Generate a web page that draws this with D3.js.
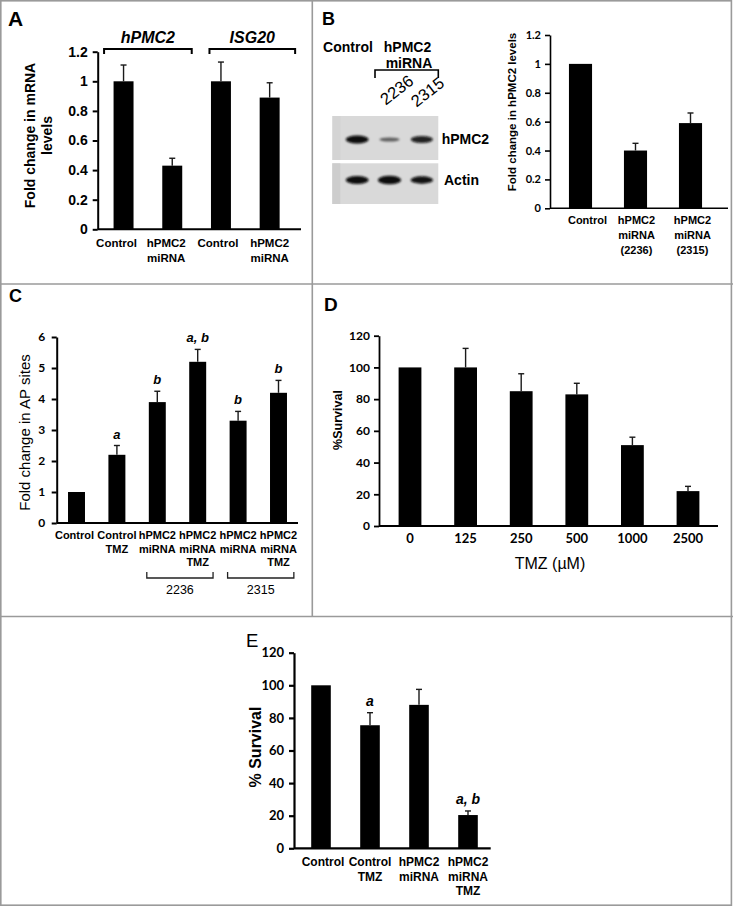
<!DOCTYPE html>
<html><head><meta charset="utf-8">
<script src="https://cdn.jsdelivr.net/npm/d3@7"></script>
<style>body{margin:0;background:#fff}svg{display:block}</style>
</head><body>
<script>
// ---------- DATA ----------
const catsA = ["Control","hPMC2\nmiRNA","Control","hPMC2\nmiRNA"];
const valsA = [1.0, 0.43, 1.0, 0.89];
const errA  = [0.11, 0.05, 0.13, 0.10];
const ticksA = [0, 0.2, 0.4, 0.6, 0.8, 1, 1.2];
const groupsA = ["hPMC2", "ISG20"];

const blotLanes  = ["Control", "2236", "2315"];
const blotHPMC2  = [1.0, 0.35, 0.8];
const blotActin  = [1.0, 1.1, 0.9];
const blotRows   = ["hPMC2", "Actin"];

const catsB = ["Control","hPMC2\nmiRNA\n(2236)","hPMC2\nmiRNA\n(2315)"];
const valsB = [1.0, 0.40, 0.59];
const errB  = [0, 0.05, 0.07];
const ticksB = [0, 0.2, 0.4, 0.6, 0.8, 1, 1.2];

const catsC = ["Control","Control\nTMZ","hPMC2\nmiRNA","hPMC2\nmiRNA\nTMZ","hPMC2\nmiRNA","hPMC2\nmiRNA\nTMZ"];
const valsC = [1.0, 2.2, 3.9, 5.2, 3.3, 4.2];
const errC  = [0, 0.3, 0.35, 0.4, 0.3, 0.4];
const sigC  = ["", "a", "b", "a, b", "b", "b"];
const ticksC = [0, 1, 2, 3, 4, 5, 6];
const subgroupsC = ["2236", "2315"];

const catsD = ["0","125","250","500","1000","2500"];
const valsD = [100, 100, 85, 83, 51, 22];
const errD  = [0, 12, 11, 7, 5, 3];
const ticksD = [0, 20, 40, 60, 80, 100, 120];

const catsE = ["Control","Control\nTMZ","hPMC2\nmiRNA","hPMC2\nmiRNA\nTMZ"];
const valsE = [100, 75.5, 88, 20.4];
const errE  = [0, 7.7, 9.5, 2.5];
const sigE  = ["", "a", "", "a, b"];
const ticksE = [0, 20, 40, 60, 80, 100, 120];

// ---------- SETUP ----------
const W = 733, H = 907;
const ARIAL = "'Liberation Sans', Arial, sans-serif";
const CALI = "Lato, 'Liberation Sans', sans-serif";
const svg = d3.select("body").append("svg").attr("width", W).attr("height", H);
svg.append("rect").attr("width", W).attr("height", H).attr("fill", "#fff");

const defs = svg.append("defs");
defs.append("filter").attr("id", "blur").attr("x", "-30%").attr("y", "-100%").attr("width", "160%").attr("height", "300%")
  .append("feGaussianBlur").attr("stdDeviation", 1.2);

// panel frame
const frame = svg.append("g").attr("stroke", "#9a9a9a").attr("stroke-width", 1.6).attr("fill", "none");
frame.append("rect").attr("x", 0.8).attr("y", 0.8).attr("width", 730.6).attr("height", 904.4);
frame.append("line").attr("x1", 0).attr("x2", W).attr("y1", 284).attr("y2", 284);
frame.append("line").attr("x1", 0).attr("x2", W).attr("y1", 616.5).attr("y2", 616.5);
frame.append("line").attr("x1", 312.3).attr("x2", 312.3).attr("y1", 0).attr("y2", 616.5);

function letter(t, x, y, size, weight) {
  svg.append("text").attr("x", x).attr("y", y).text(t)
    .attr("font-family", ARIAL).attr("font-size", size).attr("font-weight", weight || "bold").attr("fill", "#000");
}

function barChart(o) {
  const g = svg.append("g");
  const n = o.vals.length;
  const x = d3.scaleBand().domain(d3.range(n)).range([o.xr0, o.xr1]).paddingInner(o.pad).paddingOuter(o.pad / 2);
  const y = d3.scaleLinear().domain([0, o.max]).range([o.y0, o.y1]);
  const cx = i => x(i) + x.bandwidth() / 2;
  // bars
  g.selectAll("rect.bar").data(o.vals).join("rect").attr("class", "bar")
    .attr("x", (d, i) => x(i)).attr("width", x.bandwidth())
    .attr("y", d => y(d)).attr("height", d => y(0) - y(d)).attr("fill", "#000");
  // error bars
  const ed = o.vals.map((v, i) => ({ v, e: o.errs[i], i })).filter(d => d.e > 0);
  const eg = g.selectAll("g.err").data(ed).join("g").attr("class", "err")
    .attr("stroke", "#1a1a1a").attr("stroke-width", o.ew || 1.4);
  eg.append("line").attr("x1", d => cx(d.i)).attr("x2", d => cx(d.i)).attr("y1", d => y(d.v)).attr("y2", d => y(d.v + d.e));
  eg.append("line").attr("x1", d => cx(d.i) - (o.cap || 3)).attr("x2", d => cx(d.i) + (o.cap || 3))
    .attr("y1", d => y(d.v + d.e)).attr("y2", d => y(d.v + d.e));
  // y axis
  const ax = d3.axisLeft(y).tickValues(o.ticks).tickSizeInner(5).tickSizeOuter(0).tickPadding(o.tickPad).tickFormat(d => String(d));
  const ag = g.append("g").attr("transform", `translate(${o.ax},0)`).call(ax);
  ag.select(".domain").attr("stroke", "#000").attr("stroke-width", o.lw || 2);
  ag.selectAll(".tick line").attr("stroke", "#000").attr("stroke-width", o.lw || 2);
  ag.selectAll(".tick text").attr("font-family", o.tickFam).attr("font-size", o.tickSize)
    .attr("font-weight", "bold").attr("fill", "#000");
  // x axis line
  g.append("line").attr("x1", o.ax).attr("x2", o.axEnd).attr("y1", y(0)).attr("y2", y(0))
    .attr("stroke", "#000").attr("stroke-width", o.lw || 2);
  // category labels
  const lt = g.selectAll("text.cat").data(o.cats).join("text").attr("class", "cat")
    .attr("text-anchor", "middle").attr("font-family", o.catFam).attr("font-size", o.catSize)
    .attr("font-weight", "bold").attr("fill", "#000");
  lt.each(function (d, i) {
    d3.select(this).selectAll("tspan").data(d.split("\n")).join("tspan")
      .attr("x", cx(i) + (o.catDx ? o.catDx[i] : 0)).attr("y", (s, k) => o.catY + k * o.lineH).text(s => s);
  });
  // significance letters
  if (o.sig) {
    g.selectAll("text.sig").data(o.sig).join("text").attr("class", "sig")
      .attr("x", (d, i) => cx(i)).attr("y", (d, i) => y(o.vals[i] + o.errs[i]) - (o.sigGap || 7))
      .attr("text-anchor", "middle").attr("font-family", ARIAL).attr("font-size", o.sigSize)
      .attr("font-weight", "bold").attr("font-style", "italic").attr("fill", "#000").text(d => d);
  }
  // y label
  if (o.ylab) {
    const yl = g.append("text").attr("transform", `translate(${o.ylabX},${o.ylabY}) rotate(-90)`)
      .attr("text-anchor", "middle").attr("font-family", o.ylabFam).attr("font-size", o.ylabSize)
      .attr("font-weight", o.ylabWeight || "bold").attr("fill", "#000");
    yl.selectAll("tspan").data(o.ylab.split("\n")).join("tspan")
      .attr("x", 0).attr("y", (s, k) => k * o.ylabLH).text(s => s);
  }
  return { g, x, y, cx, step: x.step() };
}

// ---------- PANEL A ----------
letter("A", 8, 26, 21);
const A = barChart({
  vals: valsA, errs: errA, cats: catsA, ticks: ticksA, max: 1.2,
  xr0: 99.2, xr1: 294, pad: 0.59, y0: 229.3, y1: 51.7, ax: 97.7, axEnd: 301,
  tickPad: 5, tickFam: ARIAL, tickSize: 14, catFam: ARIAL, catSize: 11.5, catY: 247, lineH: 15,
  catDx: [-7, -6, -3, 0],
  ylab: "Fold change in mRNA\nlevels", ylabX: 35, ylabY: 135.5, ylabFam: ARIAL, ylabSize: 14, ylabLH: 16.5
});
// group brackets
groupsA.forEach((gname, k) => {
  const l = A.cx(2 * k) - 0.4 * A.step + (k ? 8 : 0), r = A.cx(2 * k + 1) + 0.4 * A.step + (k ? 6 : 0);
  A.g.append("path").attr("d", `M${l},54V49H${r}V54`).attr("fill", "none").attr("stroke", "#000").attr("stroke-width", 2);
  A.g.append("text").attr("x", (l + r) / 2).attr("y", 43).attr("text-anchor", "middle")
    .attr("font-family", ARIAL).attr("font-size", 16).attr("font-weight", "bold").attr("font-style", "italic").text(gname);
});

// ---------- PANEL B ----------
letter("B", 322, 25, 18);
// blot labels
const bl = svg.append("g").attr("font-family", ARIAL).attr("font-weight", "bold").attr("font-size", 14).attr("fill", "#000");
bl.append("text").attr("x", 348).attr("y", 51.5).attr("text-anchor", "middle").text(blotLanes[0]);
bl.append("text").attr("x", 407.5).attr("y", 51.5).attr("text-anchor", "middle").text("hPMC2");
bl.append("text").attr("x", 409).attr("y", 68).attr("text-anchor", "middle").text("miRNA");
bl.append("path").attr("d", "M375,78V70H438.3V78").attr("fill", "none").attr("stroke", "#000").attr("stroke-width", 1.6);
const lane = d3.scaleBand().domain(blotLanes).range([341, 438]);
const lc = d => lane(d) + lane.bandwidth() / 2;
blotLanes.slice(1).forEach((d, k) => {
  svg.append("text").attr("transform", `translate(${lc(d) + (k ? 6.5 : 8)},${k ? 93 : 91}) rotate(-38)`).attr("text-anchor", "middle")
    .attr("dominant-baseline", "middle").attr("font-family", ARIAL).attr("font-size", 16.5).attr("fill", "#000").text(d);
});
// blot panels
const rowsY = [[116, 160], [163.3, 204]];
[blotHPMC2, blotActin].forEach((vals, r) => {
  const [t, b] = rowsY[r];
  svg.append("rect").attr("x", 332.3).attr("y", t).attr("width", 106).attr("height", b - t).attr("fill", "#d9d9d9");
  svg.append("rect").attr("x", 332.3).attr("y", t).attr("width", 8).attr("height", b - t).attr("fill", "#cdcdcd").attr("opacity", r ? 1 : 0.4);
  const cy = r ? 180 : 139.5;
  svg.append("g").attr("filter", "url(#blur)").selectAll("ellipse").data(vals).join("ellipse")
    .attr("cx", (d, i) => lc(blotLanes[i])).attr("cy", cy)
    .attr("rx", d => 9.5 + 2 * Math.min(d, 1.1)).attr("ry", d => 1.0 + 3.0 * d)
    .attr("fill", "#0a0a0a").attr("opacity", d => Math.min(1, 0.3 + 0.75 * d));
  bl.append("text").attr("x", r ? 444 : 441.7).attr("y", cy + 4.5).text(blotRows[r]);
});

const B = barChart({
  vals: valsB, errs: errB, cats: catsB, ticks: ticksB, max: 1.2,
  xr0: 553, xr1: 718, pad: 0.58, y0: 208.3, y1: 35, ax: 550, axEnd: 728,
  tickPad: 4, tickFam: CALI, tickSize: 11, catFam: ARIAL, catSize: 11, catY: 224, lineH: 15,
  catDx: [7, 1, 2],
  ylab: "Fold change in hPMC2 levels", ylabX: 516, ylabY: 112, ylabFam: ARIAL, ylabSize: 11.5, ylabLH: 0, lw: 1.6
});

// ---------- PANEL C ----------
letter("C", 9, 302, 18);
const C = barChart({
  vals: valsC, errs: errC, cats: catsC, ticks: ticksC, max: 6,
  xr0: 56.3, xr1: 298.7, pad: 0.58, y0: 523, y1: 337, ax: 56.7, axEnd: 298,
  tickPad: 6.5, tickFam: CALI, tickSize: 12, catFam: ARIAL, catSize: 11, catY: 539, lineH: 13.5,
  catDx: [-2, 0, 0, 0, 0, 0],
  sig: sigC, sigSize: 13, sigGap: 7,
  ylab: "Fold change in AP sites", ylabX: 30, ylabY: 432.5, ylabFam: ARIAL, ylabSize: 15, ylabWeight: "normal", ylabLH: 0
});
subgroupsC.forEach((s, k) => {
  const l = C.cx(2 + 2 * k) - 0.26 * C.step, r = C.cx(3 + 2 * k) + 0.38 * C.step;
  C.g.append("path").attr("d", `M${l},572V578H${r}V572`).attr("fill", "none").attr("stroke", "#222").attr("stroke-width", 1.3);
  C.g.append("text").attr("x", (l + r) / 2).attr("y", 594).attr("text-anchor", "middle")
    .attr("font-family", ARIAL).attr("font-size", 12.5).attr("fill", "#000").text(s);
});

// ---------- PANEL D ----------
letter("D", 324, 310.7, 19);
const D = barChart({
  vals: valsD, errs: errD, cats: catsD, ticks: ticksD, max: 120,
  xr0: 382.2, xr1: 715.8, pad: 0.59, y0: 526, y1: 335.7, ax: 379, axEnd: 718,
  tickPad: 4, tickFam: CALI, tickSize: 12, catFam: CALI, catSize: 13, catY: 542.5, lineH: 14,
  ylab: "%Survival", ylabX: 342, ylabY: 420, ylabFam: ARIAL, ylabSize: 12.5, ylabLH: 0, lw: 1.8
});
D.g.append("text").attr("x", 550).attr("y", 568.5).attr("text-anchor", "middle")
  .attr("font-family", ARIAL).attr("font-size", 16).attr("fill", "#000").text("TMZ (\u00B5M)");

// ---------- PANEL E ----------
letter("E", 246, 647, 18.5, "normal");
barChart({
  vals: valsE, errs: errE, cats: catsE, ticks: ticksE, max: 120,
  xr0: 296.5, xr1: 492.5, pad: 0.6, y0: 848.3, y1: 652.7, ax: 294, axEnd: 490.7,
  tickPad: 5, tickFam: CALI, tickSize: 13, catFam: ARIAL, catSize: 12, catY: 866, lineH: 14.5,
  catDx: [2, 0, 0, 0],
  sig: sigE, sigSize: 14, sigGap: 7,
  ylab: "% Survival", ylabX: 261, ylabY: 747, ylabFam: ARIAL, ylabSize: 16, ylabLH: 0, lw: 2.2
});
</script>
</body></html>
